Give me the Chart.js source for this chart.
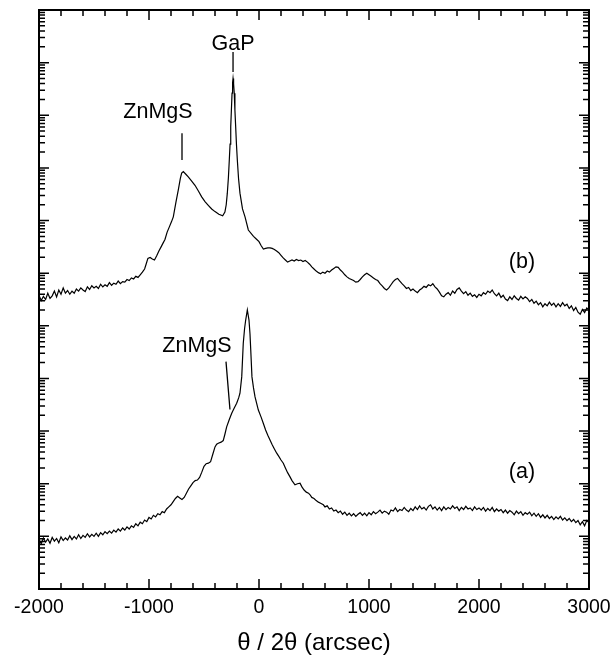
<!DOCTYPE html>
<html>
<head>
<meta charset="utf-8">
<script src="https://cdn.jsdelivr.net/npm/chart.js@4"></script>
<style>
  html, body { margin: 0; padding: 0; background: #fff; }
</style>
</head>
<body>
<canvas id="chart" width="613" height="663"></canvas>
<script>
// curve (b): x in arcsec, y as log10 of intensity
const xB = [
  -2000,-1980,-1960,-1940,-1920,-1900,-1880,-1860,-1840,-1820,
  -1800,-1780,-1760,-1740,-1720,-1700,-1680,-1660,-1640,-1620,
  -1600,-1580,-1560,-1540,-1520,-1500,-1480,-1460,-1440,-1420,
  -1400,-1380,-1360,-1340,-1320,-1300,-1280,-1260,-1240,-1220,
  -1200,-1180,-1160,-1140,-1120,-1100,
  -1080,-1060,-1040,-1025,-1010,-990,-970,-950,-930,-910,
  -890,-870,-855,-835,-815,-795,-779,-755,-734,-715,
  -703,-688,-665,-643,-612,-582,-551,-521,-491,-461,
  -430,-400,-365,-330,-310,-298,-288,-278,-270,-263,
  -257,-251,-245,-240,-236,-231,-225,-219,-212,-205,
  -197,-186,-173,-150,-127,-97,-50,-20,
  0,20,40,60,80,100,120,140,160,180,
  200,220,240,260,280,300,320,340,360,380,
  400,420,440,460,480,500,520,540,560,580,
  600,620,640,660,680,700,720,740,760,780,
  800,820,840,860,880,900,920,940,960,980,
  1000,1020,1040,1060,1080,1100,1120,1140,1160,1180,
  1200,1220,1240,1260,1280,1300,1320,1340,1360,1380,
  1400,1420,1440,1460,1480,1500,1520,1540,1560,1580,
  1600,1620,1640,1660,1680,1700,1720,1740,1760,1780,
  1800,1820,1840,1860,1880,1900,1920,1940,1960,1980,
  2000,2020,2040,2060,2080,2100,2120,2140,2160,2180,
  2200,2220,2240,2260,2280,2300,2320,2340,2360,2380,
  2400,2420,2440,2460,2480,2500,2520,2540,2560,2580,
  2600,2620,2640,2660,2680,2700,2720,2740,2760,2780,
  2800,2820,2840,2860,2880,2900,2920,2940,2960,2980,
  3000
];
const logB = [
  5.58,5.48,5.56,5.50,5.62,5.52,5.57,5.66,5.55,5.68,
  5.60,5.72,5.62,5.67,5.60,5.66,5.62,5.70,5.66,5.72,
  5.68,5.65,5.74,5.69,5.76,5.72,5.75,5.71,5.79,5.74,
  5.78,5.75,5.82,5.77,5.81,5.79,5.85,5.80,5.84,5.83,
  5.88,5.86,5.91,5.89,5.94,5.92,
  5.97,6.02,6.08,6.18,6.28,6.30,6.27,6.25,6.33,6.42,
  6.50,6.58,6.64,6.78,6.88,6.98,7.07,7.35,7.58,7.80,
  7.90,7.93,7.88,7.83,7.75,7.67,7.56,7.45,7.36,7.29,
  7.22,7.17,7.12,7.09,7.16,7.30,7.52,7.82,8.15,8.45,
  8.78,9.10,9.42,9.62,9.70,9.60,9.42,9.10,8.78,8.45,
  8.15,7.80,7.52,7.22,7.07,6.82,6.70,6.64,
  6.60,6.52,6.46,6.47,6.48,6.48,6.47,6.45,6.42,6.39,
  6.34,6.29,6.25,6.21,6.23,6.25,6.23,6.26,6.24,6.25,
  6.22,6.24,6.21,6.17,6.12,6.08,6.04,6.01,5.99,6.02,
  6.00,6.04,6.02,6.06,6.09,6.12,6.11,6.06,6.02,5.97,
  5.93,5.90,5.88,5.86,5.83,5.84,5.88,5.93,5.97,6.00,
  5.97,5.94,5.91,5.88,5.86,5.80,5.76,5.71,5.68,5.72,
  5.78,5.84,5.88,5.90,5.85,5.80,5.76,5.71,5.73,5.67,
  5.70,5.66,5.63,5.68,5.71,5.75,5.73,5.78,5.76,5.80,
  5.74,5.70,5.64,5.57,5.55,5.60,5.63,5.58,5.66,5.62,
  5.69,5.72,5.66,5.61,5.65,5.58,5.62,5.56,5.59,5.54,
  5.60,5.57,5.63,5.60,5.66,5.63,5.68,5.61,5.57,5.62,
  5.54,5.58,5.51,5.48,5.55,5.50,5.57,5.52,5.49,5.56,
  5.51,5.55,5.52,5.46,5.50,5.43,5.47,5.40,5.44,5.36,
  5.42,5.38,5.45,5.39,5.43,5.36,5.42,5.37,5.44,5.38,
  5.41,5.33,5.38,5.29,5.35,5.26,5.22,5.31,5.25,5.34,
  5.30
];

// curve (a)
const xA = [
  -2000,-1980,-1960,-1940,-1920,-1900,-1880,-1860,-1840,-1820,
  -1800,-1780,-1760,-1740,-1720,-1700,-1680,-1660,-1640,-1620,
  -1600,-1580,-1560,-1540,-1520,-1500,-1480,-1460,-1440,-1420,
  -1400,-1380,-1360,-1340,-1320,-1300,-1280,-1260,-1240,-1220,
  -1200,-1180,-1160,-1140,-1120,-1100,-1080,-1060,-1040,-1020,
  -1000,-980,-960,-940,-920,-900,-880,-860,-840,-820,
  -800,-780,-760,-740,-720,-700,-680,-660,-640,-620,
  -600,-580,-560,-540,
  -520,-500,-480,-460,-440,-420,-400,-385,-370,-345,
  -325,-310,-294,-270,-248,-225,-203,-185,-173,-157,
  -143,-131,-121,-106,-91,-82,-75,-64,-50,-36,
  -6,20,39,60,80,100,120,140,161,180,
  200,221,240,260,282,300,327,350,373,390,
  410,430,450,464,480,500,520,540,560,585,
  600,620,640,660,680,700,720,740,760,780,
  800,820,840,860,880,900,920,940,960,980,
  1000,1020,1040,1060,1080,1100,1120,1140,1160,1180,
  1200,1220,1240,1260,1280,1300,1320,1340,1360,1380,
  1400,1420,1440,1460,1480,1500,1520,1540,1560,1580,
  1600,1620,1640,1660,1680,1700,1720,1740,1760,1780,
  1800,1820,1840,1860,1880,1900,1920,1940,1960,1980,
  2000,2020,2040,2060,2080,2100,2120,2140,2160,2180,
  2200,2220,2240,2260,2280,2300,2320,2340,2360,2380,
  2400,2420,2440,2460,2480,2500,2520,2540,2560,2580,
  2600,2620,2640,2660,2680,2700,2720,2740,2760,2780,
  2800,2820,2840,2860,2880,2900,2920,2940,2960,2980,
  3000
];
const logA = [
  0.94,0.86,0.97,0.89,0.95,0.87,0.98,0.91,0.96,0.88,
  0.99,0.92,0.97,0.93,1.01,0.94,1.00,0.95,1.03,0.96,
  1.02,0.98,1.05,0.99,1.04,1.00,1.06,1.00,1.07,1.03,
  1.09,1.05,1.10,1.06,1.12,1.08,1.14,1.10,1.16,1.12,
  1.18,1.14,1.20,1.17,1.24,1.20,1.27,1.24,1.31,1.28,
  1.36,1.33,1.40,1.37,1.43,1.41,1.47,1.45,1.52,1.56,
  1.60,1.66,1.72,1.76,1.73,1.70,1.74,1.82,1.90,1.96,
  2.02,2.06,2.07,2.12,
  2.22,2.33,2.38,2.39,2.42,2.56,2.70,2.75,2.77,2.79,
  2.82,2.94,3.08,3.22,3.34,3.44,3.53,3.63,3.72,4.03,
  4.67,4.95,5.11,5.30,5.11,4.85,4.54,4.03,3.82,3.65,
  3.40,3.26,3.15,3.02,2.92,2.83,2.74,2.66,2.58,2.52,
  2.45,2.39,2.30,2.21,2.13,2.06,1.98,2.00,2.01,1.94,
  1.88,1.84,1.82,1.79,1.74,1.72,1.68,1.65,1.63,1.60,
  1.56,1.58,1.52,1.54,1.48,1.50,1.45,1.48,1.42,1.46,
  1.40,1.44,1.39,1.43,1.38,1.42,1.45,1.40,1.44,1.39,
  1.45,1.41,1.47,1.43,1.46,1.50,1.44,1.48,1.46,1.42,
  1.50,1.48,1.54,1.47,1.51,1.49,1.55,1.50,1.47,1.53,
  1.49,1.56,1.51,1.58,1.52,1.55,1.50,1.57,1.60,1.52,
  1.56,1.50,1.55,1.49,1.56,1.51,1.55,1.52,1.58,1.53,
  1.56,1.49,1.55,1.51,1.57,1.52,1.54,1.49,1.56,1.51,
  1.54,1.50,1.55,1.48,1.53,1.49,1.55,1.47,1.52,1.48,
  1.51,1.45,1.50,1.44,1.49,1.46,1.41,1.48,1.43,1.47,
  1.40,1.45,1.42,1.46,1.39,1.44,1.38,1.43,1.36,1.41,
  1.35,1.40,1.34,1.38,1.32,1.37,1.33,1.38,1.31,1.35,
  1.30,1.34,1.28,1.32,1.26,1.30,1.22,1.28,1.20,1.30,
  1.26
];

const xTickLabels = ['-2000', '-1000', '0', '1000', '2000', '3000'];
const xTitle = 'θ / 2θ (arcsec)';

// text notes and pointer lines, in data units (x arcsec, y log10)
const notes = [
  { text: 'GaP', x: -236, y: 10.35 },
  { text: 'ZnMgS', x: -918, y: 9.06 },
  { text: 'ZnMgS', x: -564, y: 4.62 },
  { text: '(b)', x: 2391, y: 6.21 },
  { text: '(a)', x: 2391, y: 2.22 }
];
const pointers = [
  [-236, 10.20, -236, 9.82],
  [-700, 8.66, -700, 8.15],
  [-300, 4.32, -264, 3.41]
];

const fam = "'Liberation Sans', Arial, Helvetica, sans-serif";

const toPoints = (xs, logs) => xs.map((x, i) => ({ x, y: Math.pow(10, logs[i]) }));

const framePlugin = {
  id: 'frame',
  afterDraw(chart) {
    const { ctx, chartArea: a, scales: { x, y } } = chart;
    ctx.save();
    ctx.strokeStyle = '#000';
    ctx.lineWidth = 1.5;
    ctx.beginPath();
    // x ticks, inward, top and bottom
    x.ticks.forEach(t => {
      const px = x.getPixelForValue(t.value);
      const len = Math.abs(t.value % 1000) < 1e-6 ? 10 : 6;
      ctx.moveTo(px, a.bottom); ctx.lineTo(px, a.bottom - len);
      ctx.moveTo(px, a.top); ctx.lineTo(px, a.top + len);
    });
    // log ticks, inward, left and right
    for (let e = 0; e <= 11; e++) {
      for (let k = 1; k <= 9; k++) {
        if (e === 11 && k > 1) break;
        const py = y.getPixelForValue(k * Math.pow(10, e));
        const len = k === 1 ? 10 : 6;
        ctx.moveTo(a.left, py); ctx.lineTo(a.left + len, py);
        ctx.moveTo(a.right, py); ctx.lineTo(a.right - len, py);
      }
    }
    ctx.stroke();
    ctx.lineWidth = 2;
    ctx.strokeRect(a.left, a.top, a.right - a.left, a.bottom - a.top);

    // pointers and notes
    ctx.lineWidth = 1.3;
    ctx.beginPath();
    pointers.forEach(([x1, y1, x2, y2]) => {
      ctx.moveTo(x.getPixelForValue(x1), y.getPixelForValue(Math.pow(10, y1)));
      ctx.lineTo(x.getPixelForValue(x2), y.getPixelForValue(Math.pow(10, y2)));
    });
    ctx.stroke();
    ctx.fillStyle = '#000';
    ctx.font = `21.5px ${fam}`;
    ctx.textAlign = 'center';
    ctx.textBaseline = 'middle';
    notes.forEach(n => {
      ctx.fillText(n.text, x.getPixelForValue(n.x), y.getPixelForValue(Math.pow(10, n.y)));
    });
    ctx.restore();
  }
};

const lineStyle = {
  showLine: true,
  borderColor: '#000',
  borderWidth: 1.2,
  pointRadius: 0,
  tension: 0
};

new Chart(document.getElementById('chart'), {
  type: 'scatter',
  data: {
    datasets: [
      { label: '(a)', data: toPoints(xA, logA), ...lineStyle },
      { label: '(b)', data: toPoints(xB, logB), ...lineStyle }
    ]
  },
  options: {
    responsive: false,
    animation: false,
    layout: { padding: { left: 39, right: 24, top: 10, bottom: 0 } },
    plugins: { legend: { display: false }, tooltip: { enabled: false } },
    scales: {
      x: {
        type: 'linear',
        min: -2000,
        max: 3000,
        grid: { display: false, drawTicks: false },
        border: { display: false },
        ticks: {
          stepSize: 200,
          autoSkip: false,
          maxRotation: 0,
          padding: 7,
          color: '#000',
          font: { family: fam, size: 19.5 },
          callback: v => {
            const label = String(Math.round(v));
            return xTickLabels.includes(label) ? label : '';
          }
        },
        title: {
          display: true,
          text: xTitle,
          color: '#000',
          font: { family: fam, size: 24 },
          padding: { top: 0, bottom: 5 }
        },
        afterFit: s => { s.height = 74; s.paddingLeft = 0; s.paddingRight = 0; }
      },
      y: { type: 'logarithmic', display: false, min: 1, max: 1e11 }
    }
  },
  plugins: [framePlugin]
});
</script>
</body>
</html>
